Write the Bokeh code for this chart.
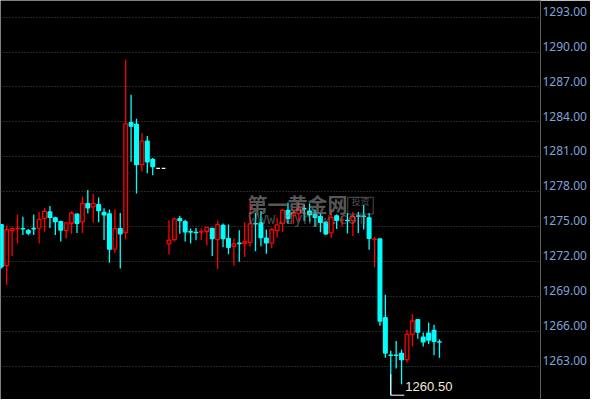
from bokeh.plotting import figure
from bokeh.models import Range1d, FixedTicker, CustomJSTickFormatter, ColumnDataSource
from bokeh.core.properties import value
from bokeh.embed import file_html
from bokeh.resources import INLINE

# ---------------- data ----------------
opens = [1275.17, 1271.64, 1274.65, 1274.80, 1274.82, 1274.65, 1274.83, 1274.87, 1275.70, 1276.25,
         1275.75, 1275.42, 1274.65, 1275.28, 1276.06, 1275.40, 1276.97, 1276.69, 1276.88, 1276.22,
         1276.08, 1273.05, 1274.82, 1274.49, 1283.93, 1283.77, 1280.32, 1282.34, 1280.77, 1280.00,
         1280.00, 1273.50, 1273.88, 1275.67, 1275.42, 1274.55, 1274.50, 1274.53, 1274.57, 1274.84,
         1273.88, 1275.09, 1273.96, 1273.30, 1273.56, 1273.55, 1273.63, 1275.24, 1275.31, 1273.99,
         1273.58, 1274.65, 1275.28, 1276.39, 1275.98, 1276.11, 1276.53, 1276.33, 1276.03, 1275.84,
         1275.34, 1274.45, 1275.92, 1275.55, 1275.52, 1275.50, 1275.91, 1275.90, 1275.75, 1273.90,
         1273.93, 1267.16, 1263.94, 1263.94, 1264.10, 1263.55, 1265.73, 1266.99, 1265.50, 1265.84,
         1266.08, 1265.09]
closes = [1271.54, 1274.74, 1274.82, 1274.82, 1274.80, 1274.43, 1274.81, 1275.61, 1276.31, 1275.78,
          1275.42, 1274.70, 1275.31, 1276.14, 1275.28, 1276.97, 1276.60, 1276.97, 1276.36, 1276.00,
          1273.05, 1274.82, 1274.37, 1283.83, 1283.63, 1280.32, 1282.34, 1280.57, 1280.16, 1280.00,
          1280.00, 1273.83, 1275.65, 1275.50, 1274.54, 1274.53, 1274.48, 1274.55, 1274.93, 1273.96,
          1275.17, 1273.96, 1273.22, 1273.50, 1273.54, 1273.69, 1275.23, 1275.22, 1274.04, 1273.60,
          1274.74, 1275.15, 1276.41, 1275.70, 1276.17, 1276.52, 1276.51, 1276.03, 1275.78, 1275.36,
          1274.37, 1275.78, 1275.53, 1275.57, 1275.50, 1275.84, 1275.89, 1275.88, 1273.99, 1273.92,
          1266.88, 1264.12, 1263.92, 1263.92, 1263.55, 1265.73, 1266.88, 1265.92, 1265.09, 1265.23,
          1265.12, 1265.07]
highs = [1275.17, 1275.09, 1274.93, 1276.03, 1275.84, 1274.79, 1276.03, 1276.25, 1276.58, 1276.77,
         1275.84, 1275.50, 1275.36, 1276.31, 1276.11, 1277.57, 1278.15, 1277.82, 1277.49, 1276.58,
         1276.47, 1276.47, 1276.17, 1289.33, 1286.33, 1284.26, 1283.03, 1282.78, 1280.90, 1280.00,
         1280.00, 1275.53, 1275.75, 1275.92, 1275.59, 1274.82, 1274.87, 1274.82, 1274.93, 1274.84,
         1275.50, 1275.26, 1275.17, 1273.96, 1274.68, 1275.36, 1277.16, 1276.19, 1276.33, 1274.74,
         1274.87, 1275.75, 1276.52, 1277.07, 1276.31, 1277.07, 1276.88, 1276.97, 1276.47, 1276.14,
         1275.48, 1276.44, 1276.03, 1275.89, 1276.17, 1276.25, 1276.25, 1276.85, 1276.17, 1274.10,
         1273.93, 1269.14, 1264.32, 1265.15, 1264.41, 1266.14, 1267.46, 1266.99, 1265.90, 1266.74,
         1266.55, 1265.30]
lows = [1271.37, 1269.99, 1272.47, 1273.55, 1274.27, 1274.24, 1274.27, 1273.55, 1274.54, 1274.87,
        1274.27, 1273.71, 1273.96, 1274.37, 1274.45, 1274.45, 1276.11, 1275.34, 1275.36, 1273.85,
        1271.89, 1272.72, 1271.40, 1273.88, 1280.57, 1277.84, 1279.74, 1279.58, 1279.41, 1280.00,
        1280.00, 1272.59, 1273.71, 1274.37, 1273.71, 1273.55, 1273.83, 1273.85, 1273.36, 1272.47,
        1271.35, 1273.22, 1272.61, 1271.64, 1271.97, 1272.39, 1273.27, 1272.88, 1273.30, 1272.67,
        1273.13, 1274.04, 1274.54, 1275.23, 1275.23, 1275.48, 1275.48, 1275.41, 1275.01, 1274.51,
        1274.27, 1274.04, 1274.79, 1275.01, 1274.41, 1274.18, 1274.45, 1274.74, 1273.00, 1271.50,
        1266.47, 1263.71, 1260.50, 1262.80, 1261.43, 1263.30, 1264.70, 1265.36, 1264.68, 1264.90,
        1263.93, 1263.71]
y_ticks = [1263, 1266, 1269, 1272, 1275, 1278, 1281, 1284, 1287, 1290, 1293]
watermark_title = "第一黄金网"
watermark_url = "www.dyhjw.com"
watermark_badge = "投资"

# ---------------- styling ----------------
UP = "#FF0000"
DOWN = "#00FFFF"
FLAT = "#FFFFFF"
BG = "#000000"

n = len(opens)
xs = list(range(n))
line_cols, fill_cols = [], []
for o, c in zip(opens, closes):
    if c > o:
        line_cols.append(UP); fill_cols.append(BG)
    elif c < o:
        line_cols.append(DOWN); fill_cols.append(DOWN)
    else:
        line_cols.append(FLAT); fill_cols.append(FLAT)

src = ColumnDataSource(dict(
    x=xs, h=highs, l=lows,
    top=[max(o, c) for o, c in zip(opens, closes)],
    bottom=[min(o, c) for o, c in zip(opens, closes)],
    lc=line_cols, fc=fill_cols,
))

p = figure(width=590, height=399,
           x_range=Range1d(-0.14, 99.68), y_range=Range1d(1260.13, 1294.43),
           output_backend="svg", toolbar_location=None,
           x_axis_location=None, y_axis_location="right",
           min_border=0, min_border_right=50,
           background_fill_color=BG, border_fill_color=BG,
           outline_line_color=None)

for g in p.xgrid:
    g.visible = False
p.ygrid.ticker = FixedTicker(ticks=y_ticks)
p.ygrid.grid_line_color = "#4a4a4a"
p.ygrid.grid_line_dash = "1 2"
p.ygrid.grid_line_width = 1

ax = p.yaxis[0]
ax.ticker = FixedTicker(ticks=[t + 0.5 for t in y_ticks])
ax.formatter = CustomJSTickFormatter(code="return (tick - 0.5).toFixed(2);")
ax.axis_line_color = "#5a5e66"
ax.major_tick_line_color = None
ax.minor_tick_line_color = None
ax.major_tick_out = 0
ax.major_tick_in = 0
ax.major_label_standoff = 2
ax.major_label_text_color = "#7FA3D8"
ax.major_label_text_font = "Noto Sans"
ax.major_label_text_font_size = "12px"

# candles
p.segment(x0="x", y0="h", x1="x", y1="l", line_color="lc", line_width=1.3, source=src)
p.vbar(x="x", width=0.68, top="top", bottom="bottom", fill_color="fc",
       line_color="lc", line_width=1.3, source=src)

# watermark
p.text(x=[45.5], y=[1276.87], text=[watermark_title], text_font=value("Noto Sans CJK SC"),
       text_font_size="20px", text_font_style="bold", text_color="#8a8a8a", text_alpha=0.65,
       text_baseline="middle", text_align="left")
p.text(x=[45.7], y=[1275.62], text=[watermark_url], text_font=value("DejaVu Sans Mono"),
       text_font_size="15px", text_color="#8a8a8a", text_alpha=0.55,
       text_baseline="middle", text_align="left")
p.rect(x=[66.4], y=[1276.79], width=4.7, height=1.45, fill_color=None,
       line_color="#8a8a8a", line_alpha=0.55, line_width=1)
p.text(x=[66.4], y=[1277.15], text=[watermark_badge], text_font=value("Noto Sans CJK SC"),
       text_font_size="9px", text_color="#8a8a8a", text_alpha=0.6,
       text_baseline="middle", text_align="center")

# low annotation
low_val = min(lows)
low_i = lows.index(low_val)
p.segment(x0=[low_i, low_i], y0=[low_val + 1.8, low_val], x1=[low_i, low_i + 2.5],
          y1=[low_val, low_val], line_color="#FFFFFF", line_width=1)
p.text(x=[low_i + 2.7], y=[low_val + 0.73], text=[f"{low_val:.2f}"],
       text_font=value("Liberation Sans"), text_font_size="13px", text_color="#F2EADA",
       text_baseline="middle", text_align="left")

open("out.html", "w").write(file_html(p, INLINE))
